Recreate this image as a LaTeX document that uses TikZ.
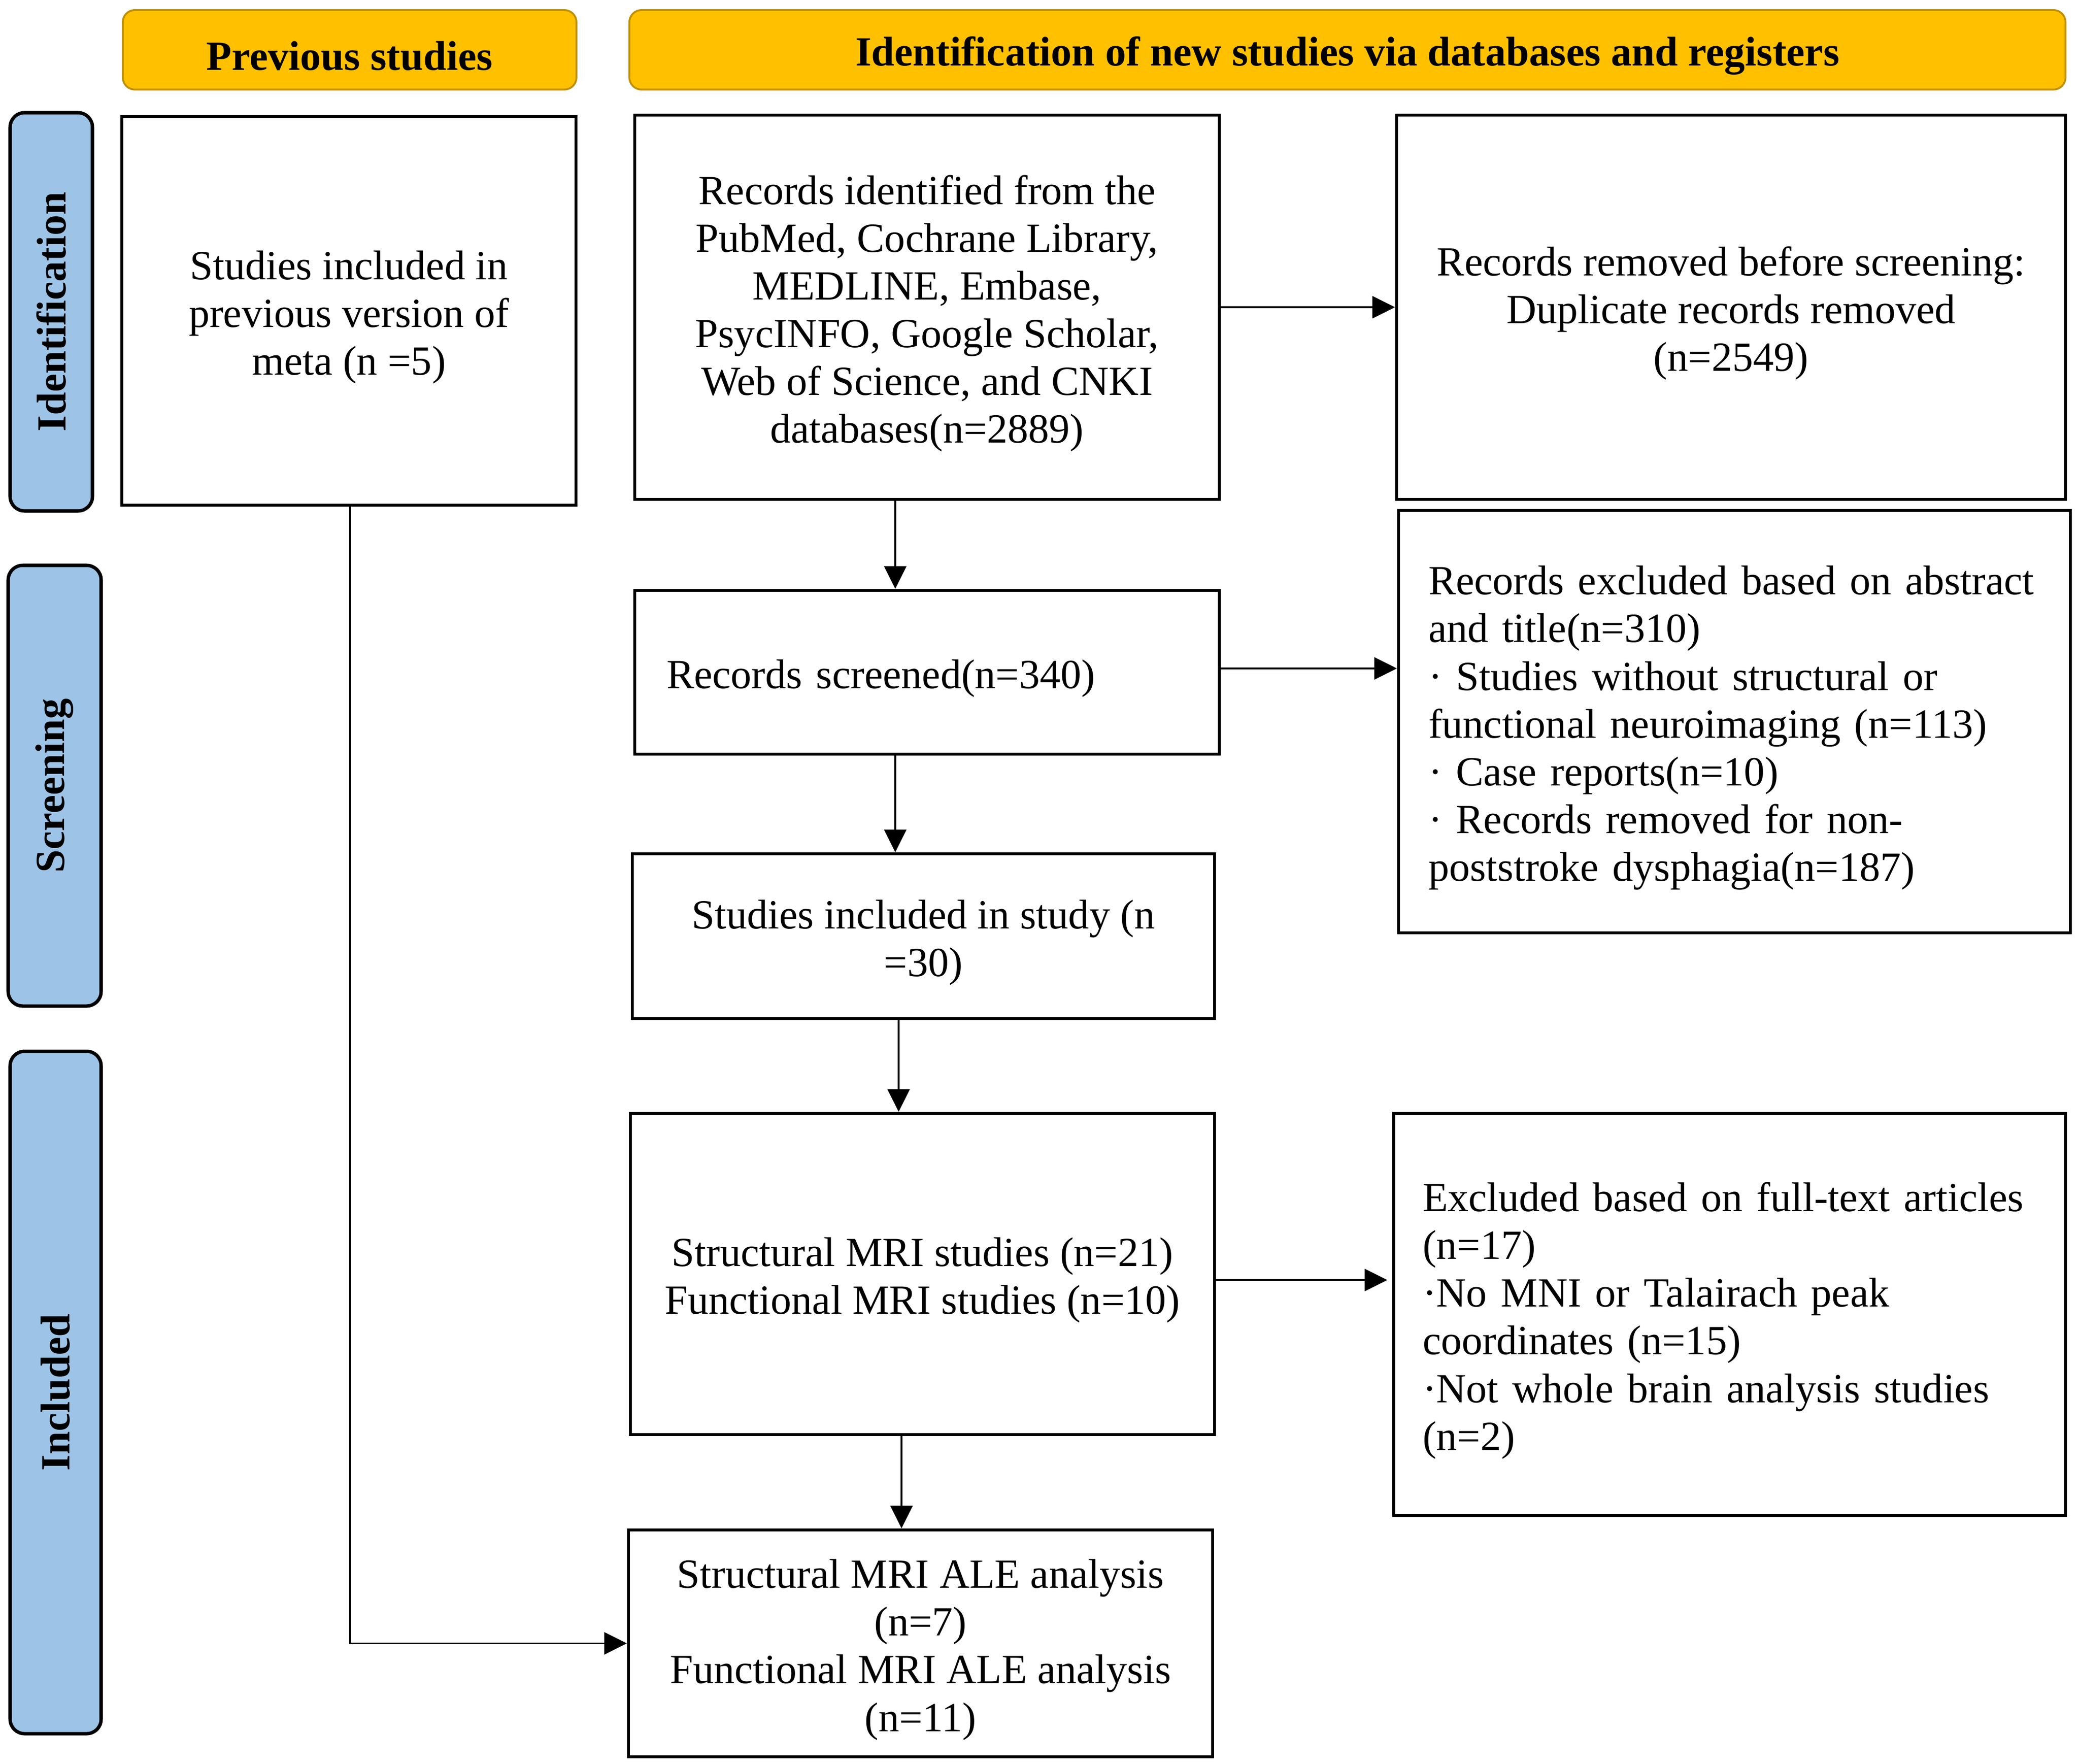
\documentclass[tikz,border=0pt]{standalone}
\usepackage{fontspec}
\setmainfont{Liberation Serif}
\usetikzlibrary{arrows.meta,calc}
\definecolor{hdrfill}{HTML}{FFC000}
\definecolor{hdrdraw}{HTML}{BF9000}
\definecolor{tabfill}{HTML}{9DC3E6}
\newcommand{\tstr}{\rule{0pt}{0.86cm}}
\begin{document}
\begin{tikzpicture}[
  x=1cm,y=1cm,
  every node/.style={font=\fontsize{24.5}{28.2}\selectfont},
  hdr/.style={draw=hdrdraw,line width=1.1pt,fill=hdrfill,rounded corners=0.25cm,inner sep=0pt,
    font=\fontsize{24.5}{28.2}\selectfont\bfseries},
  phase/.style={draw=black,line width=2pt,fill=tabfill,rounded corners=0.3cm,inner sep=0pt,rotate=90,
    font=\fontsize{24.5}{28.2}\selectfont\bfseries},
  box/.style={draw=black,line width=1.9pt,fill=white,inner sep=0pt,align=center},
  conn/.style={draw=black,line width=1pt},
  arr/.style={conn,-{Triangle[length=0.47cm,width=0.46cm]}}
]
\fill[white] (0,0) rectangle (43.17,-36.63);
\useasboundingbox (0,0) rectangle (43.17,-36.63);

% headers
\node[hdr,anchor=north west,minimum width=9.42cm,minimum height=1.65cm] (hdrA) at (2.53,-0.19) {\tstr Previous studies};
\node[hdr,anchor=north west,minimum width=29.82cm,minimum height=1.65cm] (hdrB) at (13.05,-0.19) {\tstr Identification of new studies via databases and registers};

% phase tabs
\node[phase,minimum width=8.27cm,minimum height=1.71cm] (tabI) at (1.065,-6.475) {Identification};
\node[phase,minimum width=9.15cm,minimum height=1.93cm] (tabS) at (1.135,-16.315) {Screening};
\node[phase,minimum width=14.17cm,minimum height=1.89cm] (tabN) at (1.155,-28.915) {Included};

% boxes
\node[box,minimum width=9.43cm,minimum height=8.07cm] (prev) at (7.245,-6.455)
  {\tstr Studies included in\\previous version of\\meta (n =5)};
\node[box,minimum width=12.14cm,minimum height=7.98cm] (ident) at (19.25,-6.38)
  {\tstr Records identified from the\\PubMed, Cochrane Library,\\MEDLINE, Embase,\\PsycINFO, Google Scholar,\\Web of Science, and CNKI\\databases(n=2889)};
\node[box,minimum width=13.89cm,minimum height=7.98cm] (removed) at (35.945,-6.38)
  {\tstr Records removed before screening:\\Duplicate records removed\\(n=2549)};
\node[box,minimum width=12.14cm,minimum height=3.40cm,text width=10.82cm,align=left] (screened) at (19.25,-13.96)
  {\tstr Records screened(n=340)};
\node[box,minimum width=13.95cm,minimum height=8.77cm,text width=12.71cm,align=left] (excl1) at (36.015,-14.985)
  {\tstr\makebox[\linewidth][s]{Records excluded based on abstract}\\and title(n=310)\\· Studies without structural or\\functional neuroimaging (n=113)\\· Case reports(n=10)\\· Records removed for non-\\poststroke dysphagia(n=187)};
\node[box,minimum width=12.09cm,minimum height=3.42cm] (incl) at (19.175,-19.44)
  {\tstr Studies included in study (n\\=30)};
\node[box,minimum width=12.13cm,minimum height=6.67cm] (struct) at (19.155,-26.455)
  {\tstr Structural MRI studies (n=21)\\Functional MRI studies (n=10)};
\node[box,minimum width=13.95cm,minimum height=8.35cm,text width=12.75cm,align=left] (excl2) at (35.915,-27.295)
  {\tstr Excluded based on full-text articles\\(n=17)\\·No MNI or Talairach peak\\coordinates (n=15)\\·Not whole brain analysis studies\\(n=2)};
\node[box,minimum width=12.13cm,minimum height=4.71cm] (ale) at (19.115,-34.125)
  {\tstr Structural MRI ALE analysis\\(n=7)\\Functional MRI ALE analysis\\(n=11)};

% helper coordinates for connector columns / rows
\coordinate (c1) at (18.59,0);
\coordinate (c2) at (18.66,0);
\coordinate (c3) at (18.72,0);
\coordinate (cp) at (7.27,0);
\coordinate (r1) at (0,-13.88);
\coordinate (r2) at (0,-26.58);

% connectors
\draw[arr] (ident.south -| c1) -- (screened.north -| c1);
\draw[arr] (screened.south -| c1) -- (incl.north -| c1);
\draw[arr] (incl.south -| c2) -- (struct.north -| c2);
\draw[arr] (struct.south -| c3) -- (ale.north -| c3);
\draw[arr] (ident.east) -- (removed.west);
\draw[arr] (screened.east |- r1) -- (excl1.west |- r1);
\draw[arr] (struct.east |- r2) -- ($(excl2.west |- r2)+(-0.1,0)$);
\draw[arr] (prev.south -| cp) |- (ale.west);
\end{tikzpicture}
\end{document}
